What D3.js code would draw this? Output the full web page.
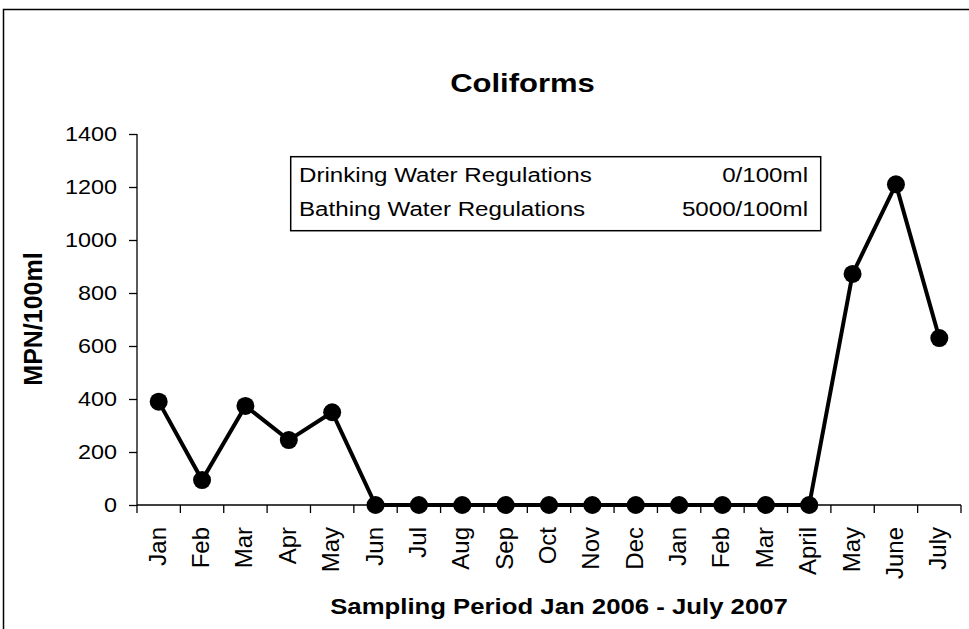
<!DOCTYPE html>
<html><head><meta charset="utf-8">
<script src="https://cdn.jsdelivr.net/npm/d3@7"></script>
<style>body{margin:0;background:#fff}svg{display:block}text{font-family:"Liberation Sans",Arial,sans-serif;fill:#000}</style>
</head><body>
<script>
const categories = ["Jan","Feb","Mar","Apr","May","Jun","Jul","Aug","Sep","Oct","Nov","Dec","Jan","Feb","Mar","April","May","June","July"];
const values = [390, 94, 374, 245, 350, 0, 0, 0, 0, 0, 0, 0, 0, 0, 0, 0, 872, 1210, 630];
const yTicks = [0, 200, 400, 600, 800, 1000, 1200, 1400];
const legendLabels = ["Drinking Water Regulations", "Bathing Water Regulations"];
const legendValues = ["0/100ml", "5000/100ml"];
const title = "Coliforms";
const xTitle = "Sampling Period Jan 2006 - July 2007";
const yTitle = "MPN/100ml";

const W = 969, H = 629;
const svg = d3.select("body").append("svg").attr("width", W).attr("height", H);
svg.append("rect").attr("x", 3.5).attr("y", 9.5).attr("width", 990).attr("height", 700)
  .attr("fill", "none").attr("stroke", "#000").attr("stroke-width", 1.5);

const x = d3.scaleBand().domain(d3.range(categories.length)).range([137, 961]).padding(0);
const y = d3.scaleLinear().domain([0, 1400]).range([505, 134]);
const SX = 1.17;

// y axis
const ya = svg.append("g").attr("transform", "translate(137,0)")
  .call(d3.axisLeft(y).tickValues(yTicks).tickSize(8).tickPadding(0).tickFormat(""));
ya.selectAll("path,line").attr("stroke", "#000").attr("stroke-width", 1.3);
ya.select(".domain").attr("d", `M0,${y(1400)}V${y(0)}`);
svg.append("g").selectAll("text").data(yTicks).join("text")
  .attr("transform", d => `translate(117,${y(d)}) scale(${SX},1)`)
  .attr("text-anchor", "end").attr("dy", "0.36em").attr("font-size", 20).text(d => d);

// x axis
const xa = svg.append("g").attr("transform", "translate(0,505)")
  .call(d3.axisBottom(x).tickSize(0).tickFormat(""));
xa.select(".domain").attr("stroke", "#000").attr("stroke-width", 1.3).attr("d", "M137,0H961");
const bounds = d3.range(categories.length).map(i => x(i)).concat([x(categories.length - 1) + x.bandwidth()]);
xa.selectAll("line.b").data(bounds).join("line").attr("class", "b")
  .attr("x1", d => d).attr("x2", d => d).attr("y1", 0).attr("y2", 8)
  .attr("stroke", "#000").attr("stroke-width", 1.3);
svg.append("g").selectAll("text").data(categories).join("text")
  .attr("transform", (d, i) => `translate(${x(i) + x.bandwidth() / 2 + 7},527) rotate(-90)`)
  .attr("text-anchor", "end").attr("font-size", 24).text(d => d);

// line + markers
const line = d3.line().x((d, i) => x(i) + x.bandwidth() / 2).y(d => y(d));
svg.append("path").datum(values).attr("d", line).attr("fill", "none")
  .attr("stroke", "#000").attr("stroke-width", 4).attr("stroke-linejoin", "miter");
svg.append("g").selectAll("circle").data(values).join("circle")
  .attr("cx", (d, i) => x(i) + x.bandwidth() / 2).attr("cy", d => y(d)).attr("r", 9).attr("fill", "#000");

// legend box
svg.append("rect").attr("x", 290.7).attr("y", 156.7).attr("width", 530).attr("height", 74)
  .attr("fill", "#fff").attr("stroke", "#000").attr("stroke-width", 1.5);
legendLabels.forEach((t, i) => {
  svg.append("text").attr("transform", `translate(299,${181.5 + i * 34.5}) scale(1.15,1)`)
    .attr("font-size", 21).text(t);
  svg.append("text").attr("transform", `translate(808,${181.5 + i * 34.5}) scale(1.15,1)`)
    .attr("text-anchor", "end").attr("font-size", 21).text(legendValues[i]);
});

// titles
svg.append("text").attr("transform", `translate(522.5,92.3) scale(${SX},1)`)
  .attr("text-anchor", "middle").attr("font-size", 26.5).attr("font-weight", "bold").text(title);
svg.append("text").attr("transform", `translate(559,613.5) scale(${SX},1)`)
  .attr("text-anchor", "middle").attr("font-size", 22).attr("font-weight", "bold").text(xTitle);
svg.append("text").attr("transform", `translate(42.3,319) rotate(-90)`)
  .attr("text-anchor", "middle").attr("font-size", 25).attr("font-weight", "bold").text(yTitle);
</script>
</body></html>
